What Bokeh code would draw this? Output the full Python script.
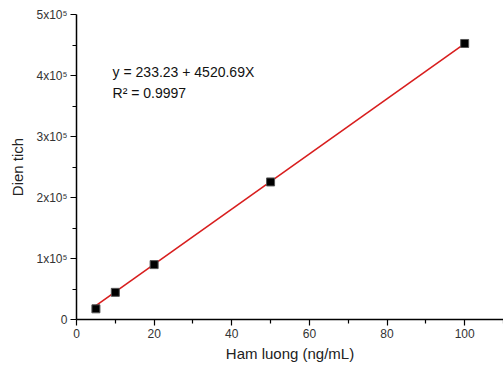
from bokeh.plotting import figure
from bokeh.models import Range1d, FixedTicker, Label
from bokeh.embed import file_html
from bokeh.resources import INLINE

# Data
conc = [5, 10, 20, 50, 100]
area = [17500, 44500, 90000, 225500, 452500]
intercept = 233.23
slope = 4520.69
fit_x = [5, 100]
fit_y = [intercept + slope * v for v in fit_x]

x_ticks = [0, 20, 40, 60, 80, 100]
x_minor = [10, 30, 50, 70, 90, 110]
y_ticks = [0, 100000, 200000, 300000, 400000, 500000]
y_minor = [50000, 150000, 250000, 350000, 450000]
y_labels = ["0", "1x10\u2075", "2x10\u2075", "3x10\u2075", "4x10\u2075", "5x10\u2075"]

FONT = "Liberation Sans"

p = figure(width=503, height=370, output_backend="svg", toolbar_location=None,
           x_range=Range1d(0, 110), y_range=Range1d(0, 500000),
           min_border_left=76, min_border_right=0, min_border_top=14, min_border_bottom=51)
p.outline_line_color = None
p.xgrid.visible = False
p.ygrid.visible = False
p.background_fill_color = "white"
p.border_fill_color = "white"

p.line(fit_x, fit_y, line_color="#d81e1e", line_width=1.6)
p.scatter(conc, area, marker="square", size=8, fill_color="black", line_color="#555555", line_width=1)

for ax in (p.xaxis[0], p.yaxis[0]):
    ax.axis_line_color = "black"
    ax.axis_line_width = 1.5
    ax.major_tick_line_color = "black"
    ax.minor_tick_line_color = "black"
    ax.major_tick_line_width = 1.2
    ax.minor_tick_line_width = 1.2
    ax.major_tick_in = 0
    ax.major_tick_out = 6
    ax.minor_tick_in = 0
    ax.minor_tick_out = 4
    ax.major_label_text_font = FONT
    ax.major_label_text_font_size = "12px"
    ax.major_label_text_color = "#333333"
    ax.axis_label_text_font = FONT
    ax.axis_label_text_font_size = "15px"
    ax.axis_label_text_font_style = "normal"
    ax.axis_label_text_color = "#222222"

p.xaxis.ticker = FixedTicker(ticks=x_ticks, minor_ticks=x_minor)
p.yaxis.ticker = FixedTicker(ticks=y_ticks, minor_ticks=y_minor)
p.yaxis.major_label_overrides = {t: l for t, l in zip(y_ticks, y_labels)}
p.yaxis.major_label_orientation = "horizontal"
p.xaxis.axis_label = "Ham luong (ng/mL)"
p.yaxis.axis_label = "Dien tich"
p.xaxis.major_label_standoff = 3
p.yaxis.major_label_standoff = 3
p.xaxis.axis_label_standoff = 4
p.yaxis.axis_label_standoff = 8

eq1 = Label(x=9.3, y=406500, text="y = 233.23 + 4520.69X", text_font=FONT,
            text_font_size="14px", text_color="#111111", text_baseline="alphabetic")
eq2 = Label(x=9.3, y=370500, text="R\u00b2 = 0.9997", text_font=FONT,
            text_font_size="14px", text_color="#111111", text_baseline="alphabetic")
p.add_layout(eq1)
p.add_layout(eq2)

open("out.html", "w").write(file_html(p, INLINE))
